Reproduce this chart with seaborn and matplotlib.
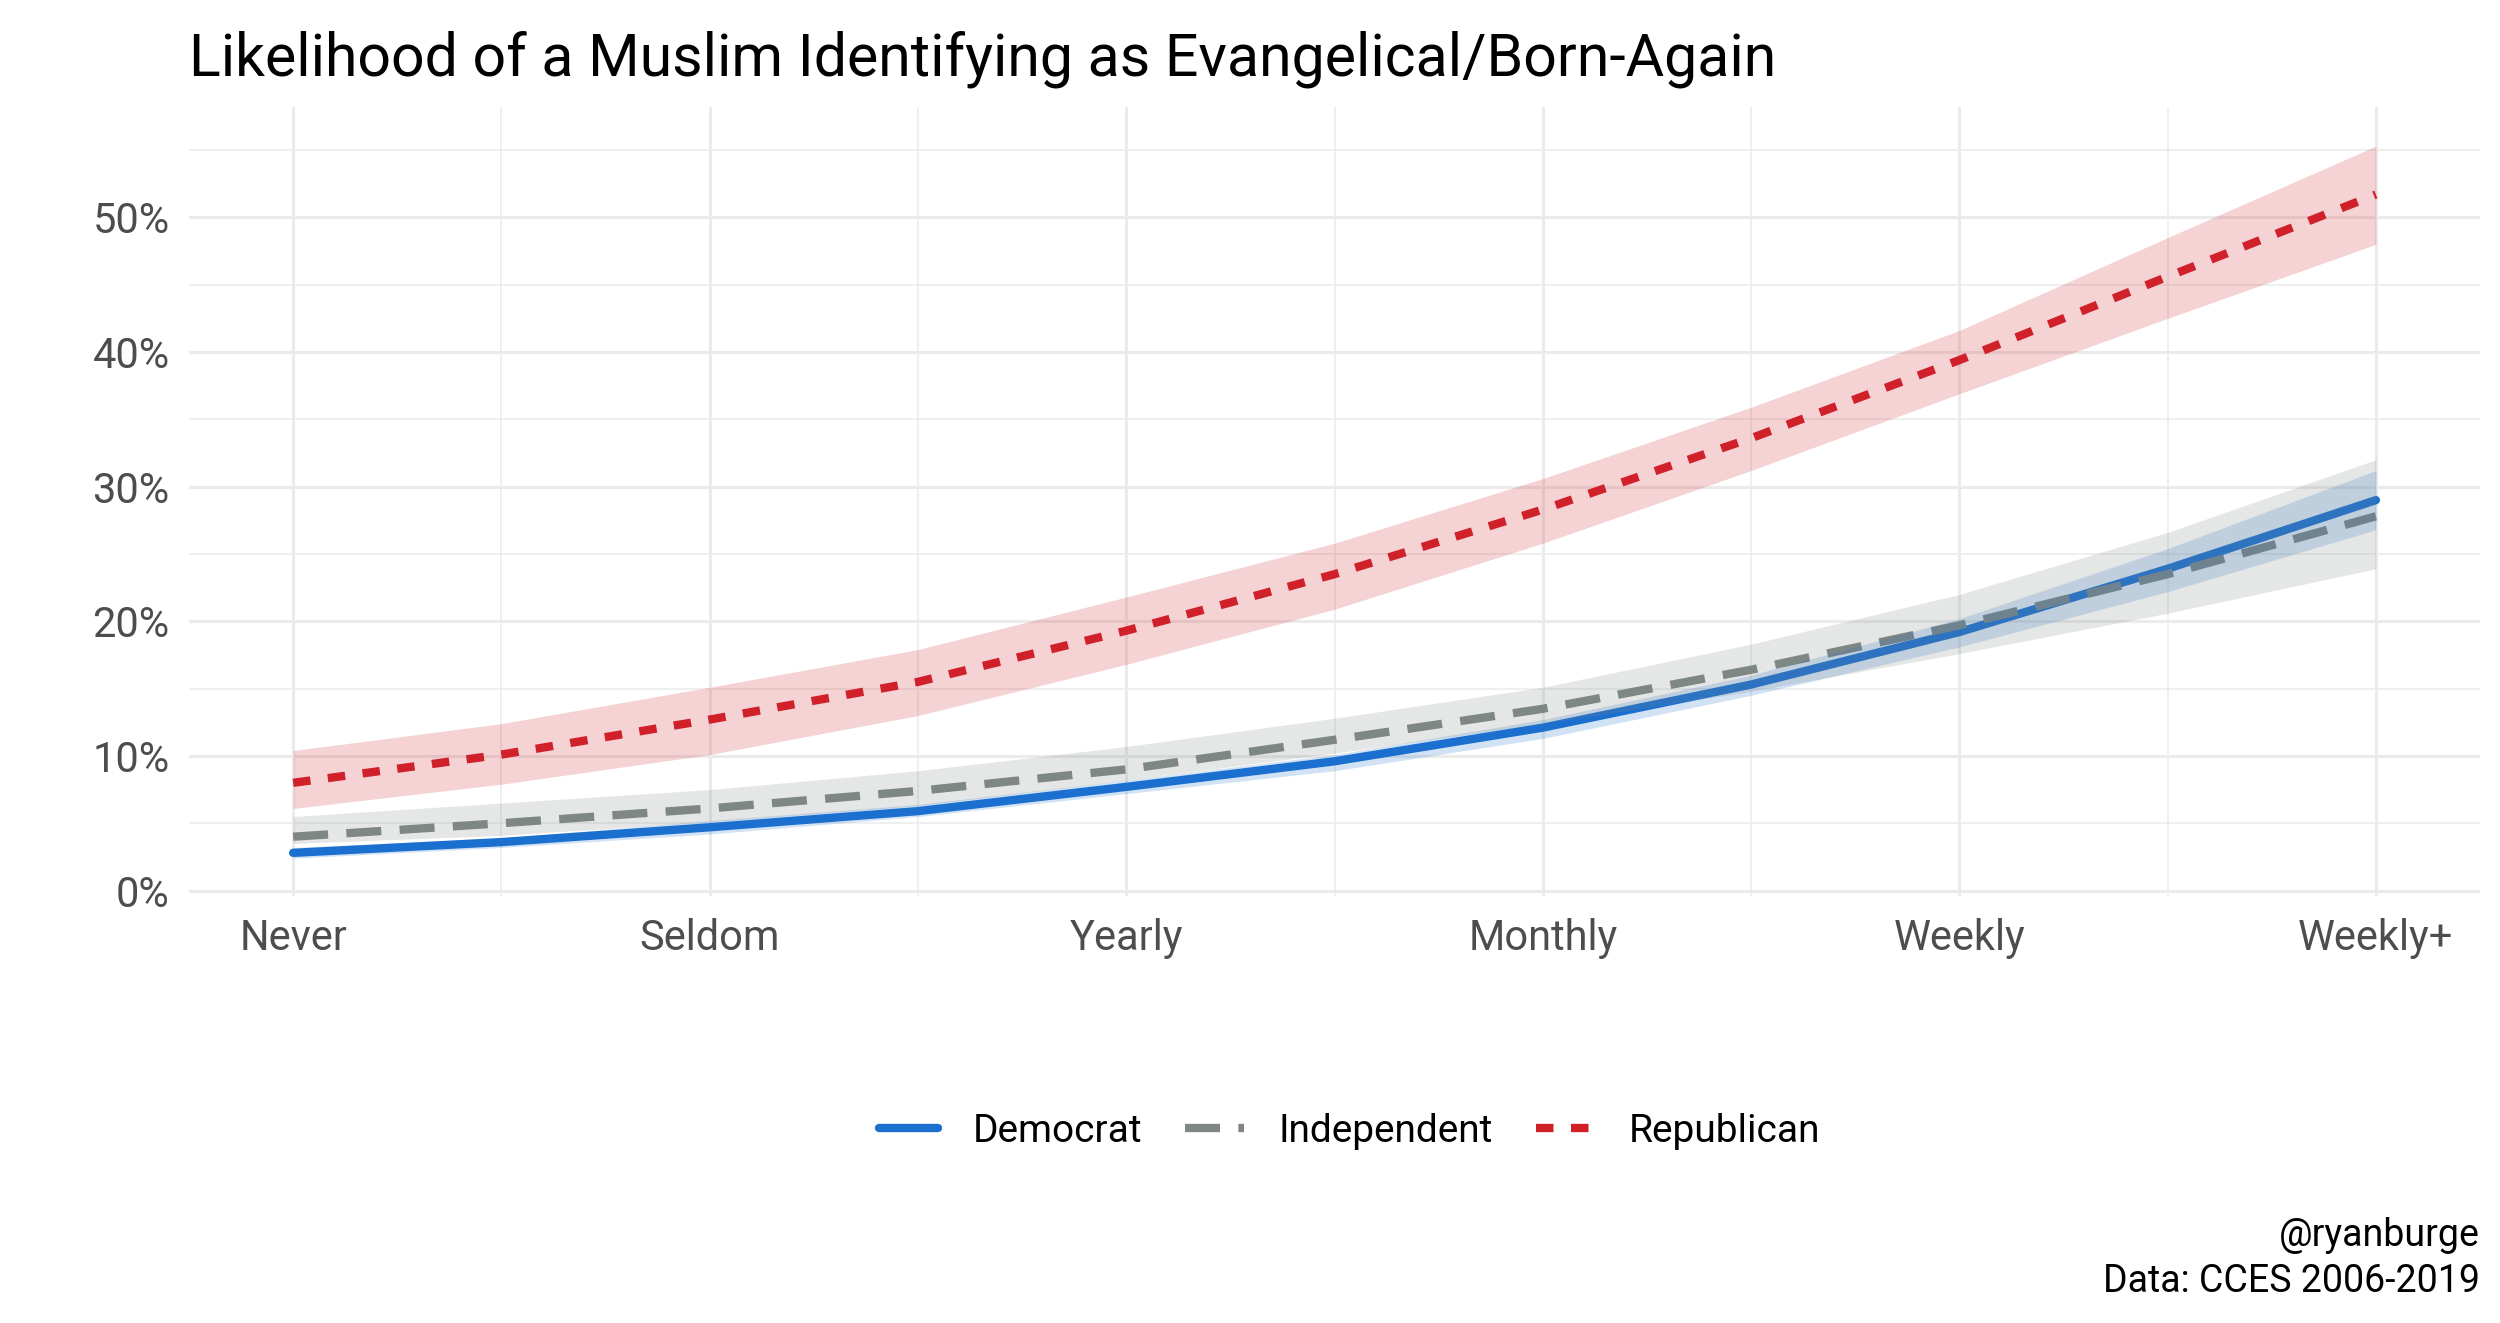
import pandas as pd
import seaborn as sns
import matplotlib.pyplot as plt
from matplotlib.ticker import MultipleLocator, FuncFormatter

# attendance scale (1 = Never ... 6 = Weekly+), read at every half step
attend = [0, 0.5, 1, 1.5, 2, 2.5, 3, 3.5, 4, 4.5, 5]
attend_labels = ["Never", "Seldom", "Yearly", "Monthly", "Weekly", "Weekly+"]

# predicted probability (%) and 95% band
dem_fit = [2.8, 3.6, 4.7, 5.9, 7.7, 9.6, 12.1, 15.3, 19.2, 23.9, 29.0]
dem_hi = [3.2, 3.9, 5.2, 6.4, 8.2, 10.1, 12.7, 16.0, 20.2, 25.4, 31.2]
dem_lo = [2.4, 3.2, 4.2, 5.5, 7.2, 8.9, 11.3, 14.5, 18.1, 22.2, 26.8]

ind_fit = [4.0, 5.0, 6.1, 7.4, 9.0, 11.2, 13.5, 16.4, 19.7, 23.5, 27.8]
ind_hi = [5.5, 6.5, 7.5, 8.9, 10.7, 12.8, 15.1, 18.3, 22.0, 26.6, 32.0]
ind_lo = [3.5, 4.1, 5.1, 6.3, 8.2, 10.2, 12.4, 14.8, 17.6, 20.6, 23.9]

rep_fit = [8.0, 10.1, 12.7, 15.5, 19.3, 23.5, 28.3, 33.6, 39.4, 45.6, 51.7]
rep_hi = [10.4, 12.4, 15.1, 17.9, 21.8, 25.8, 30.6, 35.9, 41.6, 48.5, 55.3]
rep_lo = [6.1, 7.9, 10.1, 13.0, 16.8, 20.9, 25.8, 31.2, 36.9, 42.5, 48.0]

parties = ["Democrat", "Independent", "Republican"]
kleuren = {"Democrat": "#1a6fcf", "Independent": "#7f8785", "Republican": "#d0202a"}
strepen = {"Democrat": "", "Independent": (4.2, 2.2), "Republican": (2.1, 2.1)}

series = {
    "Democrat": (dem_fit, dem_lo, dem_hi),
    "Independent": (ind_fit, ind_lo, ind_hi),
    "Republican": (rep_fit, rep_lo, rep_hi),
}

rows = []
for p in parties:
    fit, lo, hi = series[p]
    for x, f, l, h in zip(attend, fit, lo, hi):
        rows.append({"attend": x, "fit": f / 100, "lo": l / 100, "hi": h / 100, "party": p})
df = pd.DataFrame(rows)

sns.set_theme(style="white")
plt.rcParams["font.family"] = ["Roboto", "DejaVu Sans"]
plt.rcParams["text.color"] = "black"

fig = plt.figure(figsize=(25, 13.23), dpi=100)
ax = fig.add_axes([0.0756, 0.3228, 0.9164, 0.5963])

sns.lineplot(
    data=df, x="attend", y="fit", hue="party", style="party",
    hue_order=parties, style_order=parties,
    palette=kleuren, dashes=strepen, linewidth=6,
    estimator=None, sort=False, ax=ax, zorder=2
)

# ribbons on top of the lines, like the ggplot layer order
for p in parties:
    d = df[df["party"] == p]
    ax.fill_between(d["attend"], d["lo"], d["hi"], color=kleuren[p],
                    alpha=0.2, linewidth=0, zorder=3)

ax.set_xlim(-0.25, 5.25)
ax.set_ylim(-0.004, 0.582)
ax.set_xticks(range(len(attend_labels)))
ax.set_xticklabels(attend_labels)
ax.xaxis.set_minor_locator(MultipleLocator(0.5))
ax.yaxis.set_major_locator(MultipleLocator(0.1))
ax.yaxis.set_minor_locator(MultipleLocator(0.05))
ax.yaxis.set_major_formatter(FuncFormatter(lambda v, _: f"{v * 100:.0f}%"))

ax.set_axisbelow(True)
ax.grid(which="major", color="#ebebeb", linewidth=2.2)
ax.grid(which="minor", color="#ebebeb", linewidth=1.1)
ax.tick_params(which="both", length=0, labelsize=30, labelcolor="#4d4d4d")
ax.tick_params(axis="x", pad=16)
ax.tick_params(axis="y", pad=14)
for s in ax.spines.values():
    s.set_visible(False)
ax.set_xlabel("")
ax.set_ylabel("")

handles, labels = ax.get_legend_handles_labels()
for h in handles:
    h.set_linewidth(6)
ax.legend(handles, labels, loc="center", bbox_to_anchor=(0.54, 0.145),
          bbox_transform=fig.transFigure, ncol=3, frameon=False,
          fontsize=28, handlelength=1.5, handletextpad=0.9, columnspacing=1.1,
          labelcolor="black")

fig.text(0.0756, 0.943, "Likelihood of a Muslim Identifying as Evangelical/Born-Again",
         fontsize=42.5, ha="left", va="baseline", color="black")
fig.text(0.992, 0.058, "@ryanburge", fontsize=27, ha="right", va="baseline", color="black")
fig.text(0.992, 0.0235, "Data: CCES 2006-2019", fontsize=27, ha="right", va="baseline",
         color="black")

fig.savefig("out.png", dpi=100)
